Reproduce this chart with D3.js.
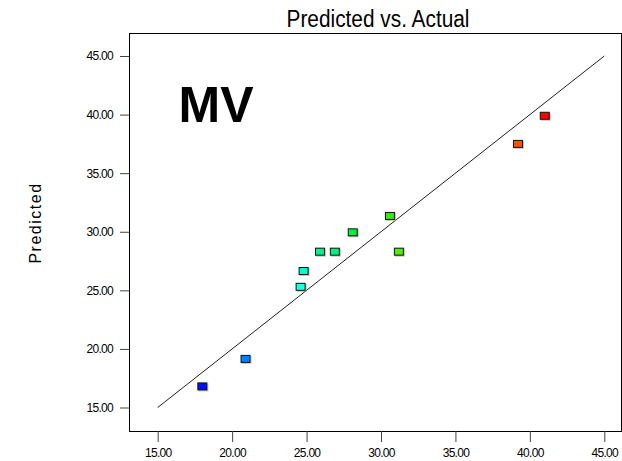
<!DOCTYPE html>
<html>
<head>
<meta charset="utf-8">
<script src="https://cdn.jsdelivr.net/npm/d3@7"></script>
<style>
html,body{margin:0;padding:0;background:#fff;}
svg{display:block;}
text{font-family:"Liberation Sans",Arial,sans-serif;}
</style>
</head>
<body>
<svg id="chart" width="622" height="461"></svg>
<script>
const title = "Predicted vs. Actual";
const yLabel = "Predicted";
const annotation = "MV";
const tickValues = [15, 20, 25, 30, 35, 40, 45];
const actual =    [18.0, 20.9, 24.6, 24.8, 25.9, 26.9, 28.1, 30.6, 31.2, 39.2, 41.0];
const predicted = [16.8, 19.15, 25.3, 26.65, 28.3, 28.3, 29.95, 31.35, 28.3, 37.5, 39.9];
const pointColors = ["#0010ff","#0080ff","#20ffe0","#00ffd0","#00f090","#00f080","#00f040","#30f000","#50ee00","#ff5000","#ff0000"];

const svg = d3.select("#chart");
const frame = {left:129, top:33, right:621, bottom:431};
const x = d3.scaleLinear().domain([15,45]).range([157.7,604.3]);
const y = d3.scaleLinear().domain([15,45]).range([407.5,56]);

// frame
svg.append("rect").attr("x",frame.left+0.5).attr("y",frame.top+0.5)
  .attr("width",frame.right-frame.left).attr("height",frame.bottom-frame.top)
  .attr("fill","none").attr("stroke","#000").attr("stroke-width",1);

// y axis ticks
const yAxis = d3.axisLeft(y).tickValues(tickValues).tickSize(9).tickPadding(7)
  .tickFormat(d3.format(".2f"));
const gy = svg.append("g").attr("transform",`translate(${frame.left},0)`).call(yAxis);
gy.select(".domain").remove();
gy.selectAll(".tick line").attr("stroke","#444");
gy.selectAll(".tick text").attr("font-size",12).attr("fill","#000")
  .attr("font-family","'Liberation Sans',Arial,sans-serif").attr("letter-spacing","-0.7");

// x axis ticks
const xAxis = d3.axisBottom(x).tickValues(tickValues).tickSize(11).tickPadding(6)
  .tickFormat(d3.format(".2f"));
const gx = svg.append("g").attr("transform",`translate(0,${frame.bottom})`).call(xAxis);
gx.select(".domain").remove();
gx.selectAll(".tick line").attr("stroke","#444");
gx.selectAll(".tick text").attr("font-size",12).attr("fill","#000")
  .attr("font-family","'Liberation Sans',Arial,sans-serif").attr("letter-spacing","-0.7");

// diagonal line
svg.append("line").attr("x1",x(15)).attr("y1",y(15)).attr("x2",x(45)).attr("y2",y(45))
  .attr("stroke","#222").attr("stroke-width",1);

// points
const pts = actual.map((a,i)=>({a, p:predicted[i], c:pointColors[i]}));
const w = 10, h = 8;
svg.append("g").selectAll("rect.shadow").data(pts).join("rect")
  .attr("x",d=>x(d.a)-w/2+1).attr("y",d=>y(d.p)-h/2+1).attr("width",w).attr("height",h)
  .attr("fill","#999").attr("opacity",0.6);
svg.append("g").selectAll("rect.pt").data(pts).join("rect")
  .attr("x",d=>x(d.a)-w/2+0.5).attr("y",d=>y(d.p)-h/2+0.5).attr("width",w-1).attr("height",h-1)
  .attr("fill",d=>d.c).attr("stroke","#111").attr("stroke-width",1);

// title
svg.append("text").attr("x",378).attr("y",27).attr("text-anchor","middle")
  .attr("font-size",23).attr("textLength",183).attr("lengthAdjust","spacingAndGlyphs")
  .text(title);

// y label
svg.append("text").attr("transform","translate(41,223) rotate(-90)")
  .attr("text-anchor","middle").attr("font-size",16).attr("letter-spacing","1.5").text(yLabel);

// annotation
svg.append("text").attr("x",216).attr("y",122).attr("text-anchor","middle")
  .attr("font-size",50).attr("font-weight","bold").text(annotation);
</script>
</body>
</html>
